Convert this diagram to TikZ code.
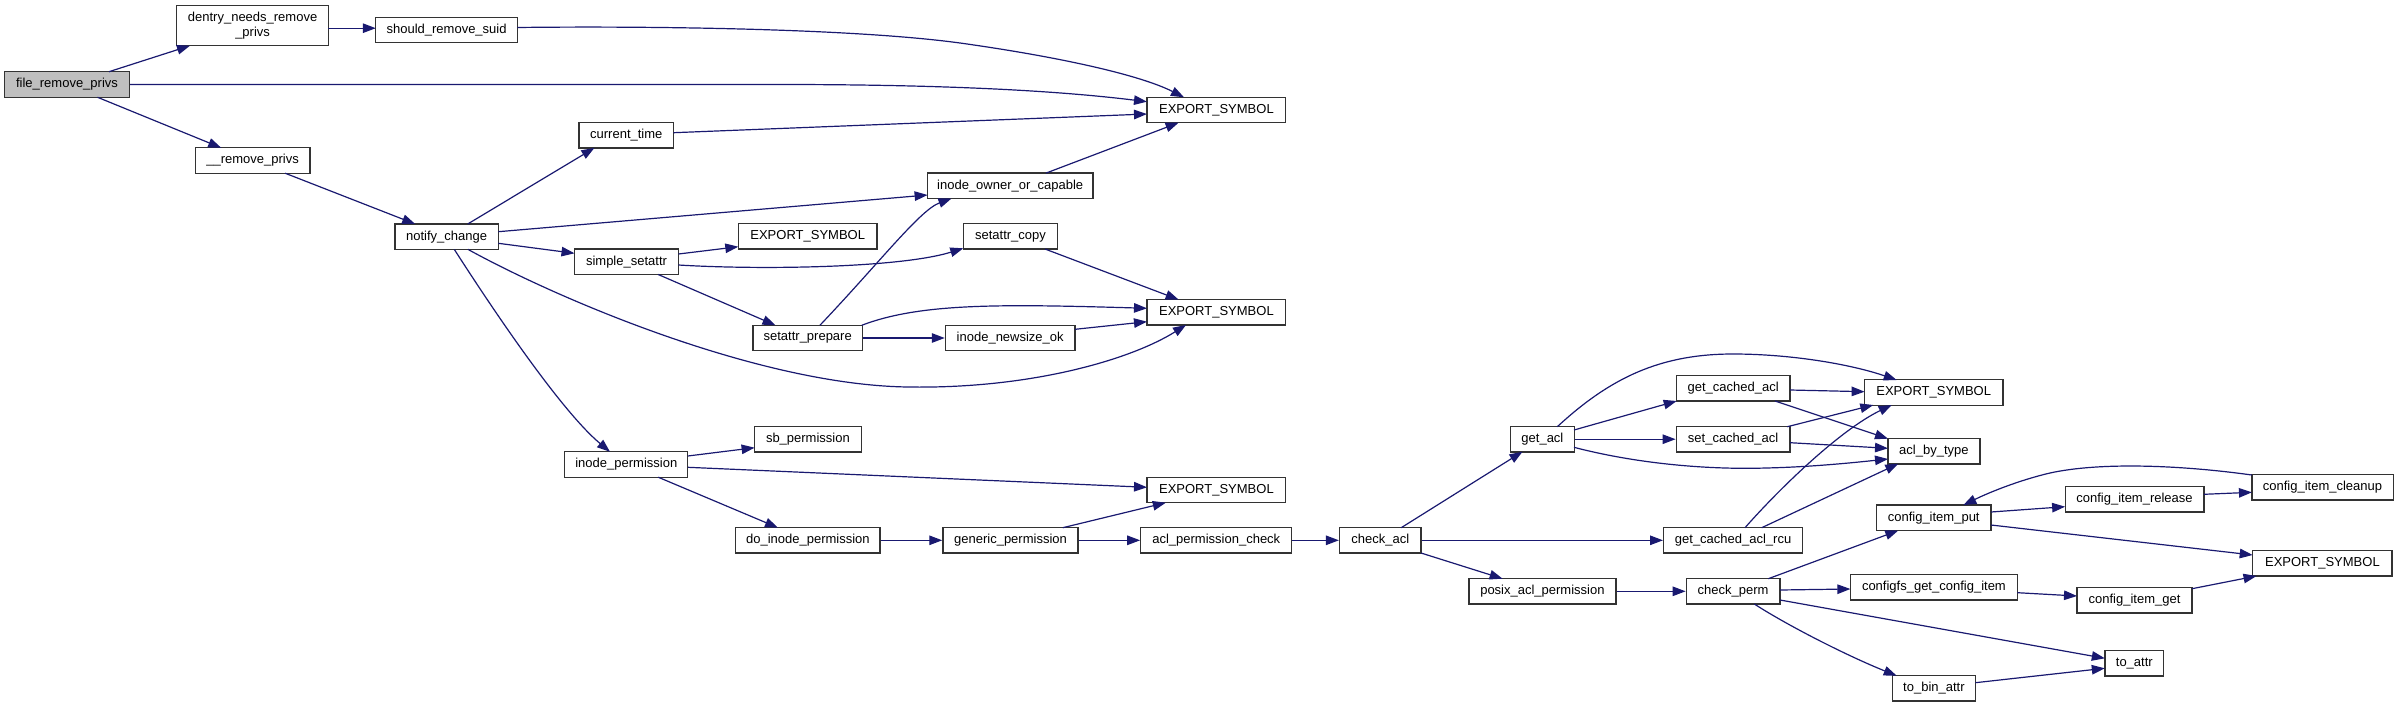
\documentclass[tikz,border=0pt]{standalone}
\usepackage{fontspec}
\setmainfont{Liberation Sans}
\usetikzlibrary{arrows.meta}
\definecolor{edgeblue}{HTML}{191970}
\definecolor{fgray}{HTML}{BFBFBF}
\tikzset{
  fn/.style={draw=black!80, line width=1.3pt, rectangle, inner sep=0pt, minimum height=25.4pt,
    font=\fontsize{13}{15}\selectfont, fill=white, text=black, align=center},
  edge/.style={draw=edgeblue, line width=1.2pt, -{Triangle[length=13pt,width=9.5pt]}}
}
\begin{document}
\begin{tikzpicture}[x=1pt,y=-1pt]
\useasboundingbox (0,0) rectangle (2399,707);
% nodes
\node[fn, fill=fgray, minimum width=125pt, minimum height=25.6pt] (frp) at (67,84.5) {file\_remove\_privs};
\node[fn, minimum width=151.6pt, minimum height=40pt] (dentry) at (252.6,25.7) {dentry\_needs\_remove\\\_privs};
\node[fn, minimum width=141.6pt] (srs) at (446.6,30) {should\_remove\_suid};
\node[fn, minimum width=114.8pt] (rp) at (252.6,160.5) {\_\_remove\_privs};
\node[fn, minimum width=103.3pt] (nc) at (446.6,236.7) {notify\_change};
\node[fn, minimum width=138.7pt] (es1) at (1216.4,110) {EXPORT\_SYMBOL};
\node[fn, minimum width=94.4pt] (ct) at (626.3,135.2) {current\_time};
\node[fn, minimum width=165.3pt] (ioc) at (1010.2,185.8) {inode\_owner\_or\_capable};
\node[fn, minimum width=138.7pt] (es2) at (807.7,236.3) {EXPORT\_SYMBOL};
\node[fn, minimum width=94.4pt] (sc) at (1010.5,236.3) {setattr\_copy};
\node[fn, minimum width=104pt] (ss) at (626.5,261.8) {simple\_setattr};
\node[fn, minimum width=138.7pt] (es3) at (1216.4,312.3) {EXPORT\_SYMBOL};
\node[fn, minimum width=109.2pt] (sp) at (807.7,338) {setattr\_prepare};
\node[fn, minimum width=129.6pt] (ino) at (1010.2,338) {inode\_newsize\_ok};
\node[fn, minimum width=106.6pt] (sb) at (807.9,439.3) {sb\_permission};
\node[fn, minimum width=123pt] (ip) at (626.3,464.5) {inode\_permission};
\node[fn, minimum width=138.7pt] (es4) at (1216.4,490) {EXPORT\_SYMBOL};
\node[fn, minimum width=144.4pt] (dip) at (807.9,540.3) {do\_inode\_permission};
\node[fn, minimum width=135.2pt] (gp) at (1010.5,540.3) {generic\_permission};
\node[fn, minimum width=151pt] (apc) at (1216.3,540.3) {acl\_permission\_check};
\node[fn, minimum width=81.5pt] (ca) at (1380.3,540.3) {check\_acl};
\node[fn, minimum width=64.3pt] (ga) at (1542.4,439.2) {get\_acl};
\node[fn, minimum width=113.7pt] (gca) at (1733.1,388.3) {get\_cached\_acl};
\node[fn, minimum width=113.7pt] (sca) at (1733.1,439.2) {set\_cached\_acl};
\node[fn, minimum width=138.9pt] (gcar) at (1733.1,540.3) {get\_cached\_acl\_rcu};
\node[fn, minimum width=147pt] (pap) at (1542.4,591.3) {posix\_acl\_permission};
\node[fn, minimum width=93.7pt] (cp) at (1733.1,591.3) {check\_perm};
\node[fn, minimum width=138.3pt] (es5) at (1933.7,392.5) {EXPORT\_SYMBOL};
\node[fn, minimum width=92pt] (abt) at (1933.9,451.2) {acl\_by\_type};
\node[fn, minimum width=141.3pt] (cic) at (2322.5,487.2) {config\_item\_cleanup};
\node[fn, minimum width=138.7pt] (cir) at (2134.5,499.3) {config\_item\_release};
\node[fn, minimum width=114.6pt] (cip) at (1933.7,517.8) {config\_item\_put};
\node[fn, minimum width=139.4pt] (es6) at (2322.4,563.3) {EXPORT\_SYMBOL};
\node[fn, minimum width=167pt] (cgci) at (1933.9,587.3) {configfs\_get\_config\_item};
\node[fn, minimum width=115pt] (cig) at (2134.5,600.3) {config\_item\_get};
\node[fn, minimum width=58.9pt] (ta) at (2134.3,663.3) {to\_attr};
\node[fn, minimum width=82.8pt] (tba) at (1933.9,688.3) {to\_bin\_attr};
% edges
\draw[edge] ([shift={(42,-12.8)}]frp.center) -- ([shift={(-62.6,20)}]dentry.center);
\draw[edge] (frp.east) -- (780,84.5) .. controls (950,84.5) and (1060,91) .. ([shift={(-69.4,-8.3)}]es1.center);
\draw[edge] ([shift={(30.6,12.8)}]frp.center) -- ([shift={(-31.4,-12.7)}]rp.center);
\draw[edge] ([shift={(75.8,2.5)}]dentry.center) -- ([shift={(-70.8,-1.8)}]srs.center);
\draw[edge] ([shift={(70.8,-2.5)}]srs.center) .. controls (640,26) and (850,28) .. (960,43) .. controls (1060,57) and (1140,75) .. ([shift={(-32.4,-12.7)}]es1.center);
\draw[edge] ([shift={(32.5,12.7)}]rp.center) -- ([shift={(-31.4,-12.7)}]nc.center);
\draw[edge] ([shift={(21.1,-12.7)}]nc.center) -- ([shift={(-31.9,12.7)}]ct.center);
\draw[edge] ([shift={(51.7,-5)}]nc.center) -- ([shift={(-82.6,9.2)}]ioc.center);
\draw[edge] ([shift={(51.7,6.6)}]nc.center) -- ([shift={(-52,-8.5)}]ss.center);
\draw[edge] ([shift={(21.4,12.7)}]nc.center) .. controls (560,300) and (760,385) .. (908,387) .. controls (1030,389) and (1130,360) .. ([shift={(-30.4,12.7)}]es3.center);
\draw[edge] ([shift={(7.7,12.7)}]nc.center) .. controls (490,305) and (560,410) .. ([shift={(-16.3,-12.7)}]ip.center);
\draw[edge] ([shift={(47.2,-2.5)}]ct.center) -- ([shift={(-69.4,4)}]es1.center);
\draw[edge] ([shift={(35.8,-12.7)}]ioc.center) -- ([shift={(-37.8,12.7)}]es1.center);
\draw[edge] ([shift={(52,-7.8)}]ss.center) -- ([shift={(-69.4,10.4)}]es2.center);
\draw[edge] ([shift={(52,3.2)}]ss.center) .. controls (760,270) and (900,268) .. ([shift={(-47.2,12)}]sc.center);
\draw[edge] ([shift={(31.7,12.7)}]ss.center) -- ([shift={(-32.2,-12.7)}]sp.center);
\draw[edge] ([shift={(34.5,12.7)}]sc.center) -- ([shift={(-37.8,-12.7)}]es3.center);
\draw[edge] ([shift={(12.2,-12.7)}]sp.center) .. controls (880,262) and (920,210) .. ([shift={(-58.7,12.7)}]ioc.center);
\draw[edge] ([shift={(54,-12.7)}]sp.center) .. controls (920,303) and (1000,304) .. ([shift={(-69.4,-4)}]es3.center);
\draw[edge] (sp.east) -- (ino.west);
\draw[edge] ([shift={(64.8,-8.7)}]ino.center) -- ([shift={(-69.4,9.4)}]es3.center);
\draw[edge] ([shift={(61.5,-8.5)}]ip.center) -- ([shift={(-53.3,8.4)}]sb.center);
\draw[edge] ([shift={(61.5,2.8)}]ip.center) -- ([shift={(-69.4,-2.7)}]es4.center);
\draw[edge] ([shift={(31.9,12.7)}]ip.center) -- ([shift={(-29.9,-12.6)}]dip.center);
\draw[edge] (dip.east) -- (gp.west);
\draw[edge] ([shift={(52.3,-12.6)}]gp.center) -- ([shift={(-50.6,12.7)}]es4.center);
\draw[edge] (gp.east) -- (apc.west);
\draw[edge] (apc.east) -- (ca.west);
\draw[edge] ([shift={(20.9,-12.6)}]ca.center) -- ([shift={(-19.9,12.5)}]ga.center);
\draw[edge] (ca.east) -- (gcar.west);
\draw[edge] ([shift={(40.7,12.7)}]ca.center) -- ([shift={(-39.8,-12.6)}]pap.center);
\draw[edge] ([shift={(14.9,-12.5)}]ga.center) .. controls (1610,378) and (1660,354) .. (1733,354) .. controls (1790,354) and (1850,364) .. ([shift={(-37,-12.5)}]es5.center);
\draw[edge] ([shift={(31.6,-9.2)}]ga.center) -- ([shift={(-56.4,12.7)}]gca.center);
\draw[edge] (ga.east) -- (sca.west);
\draw[edge] ([shift={(31.6,8.1)}]ga.center) .. controls (1630,462) and (1700,470) .. (1766,468) .. controls (1810,467) and (1850,463) .. ([shift={(-45.9,7.8)}]abt.center);
\draw[edge] ([shift={(56.9,1.7)}]gca.center) -- ([shift={(-69.1,-0.8)}]es5.center);
\draw[edge] ([shift={(41.9,12.7)}]gca.center) -- ([shift={(-45.9,-12.5)}]abt.center);
\draw[edge] ([shift={(54.2,-12.5)}]sca.center) -- ([shift={(-60.4,12.5)}]es5.center);
\draw[edge] ([shift={(56.9,3.5)}]sca.center) -- ([shift={(-45.9,-2.9)}]abt.center);
\draw[edge] ([shift={(11.9,-12.6)}]gcar.center) .. controls (1780,488) and (1840,430) .. ([shift={(-42,12.5)}]es5.center);
\draw[edge] ([shift={(28.6,-12.6)}]gcar.center) -- ([shift={(-35.6,12.5)}]abt.center);
\draw[edge] (pap.east) -- (cp.west);
\draw[edge] ([shift={(35.2,-12.6)}]cp.center) -- ([shift={(-35.4,12.7)}]cip.center);
\draw[edge] ([shift={(46.9,-1.3)}]cp.center) -- ([shift={(-83.5,1.7)}]cgci.center);
\draw[edge] ([shift={(46.9,8.7)}]cp.center) -- ([shift={(-29.5,-5)}]ta.center);
\draw[edge] ([shift={(21.2,12.7)}]cp.center) .. controls (1790,627) and (1850,657) .. ([shift={(-37.2,-12.6)}]tba.center);
\draw[edge] ([shift={(57.3,-5.8)}]cip.center) -- ([shift={(-69.4,7.4)}]cir.center);
\draw[edge] ([shift={(57.3,7.2)}]cip.center) -- ([shift={(-69.7,-8.3)}]es6.center);
\draw[edge] ([shift={(69.3,-5)}]cir.center) -- ([shift={(-70.6,5.1)}]cic.center);
\draw[edge] ([shift={(-70.7,-12.2)}]cic.center) .. controls (2180,465) and (2100,462) .. (2050,473) .. controls (2020,480) and (1990,492) .. ([shift={(29.6,-12.7)}]cip.center);
\draw[edge] ([shift={(83.5,5.4)}]cgci.center) -- ([shift={(-57.5,-4.3)}]cig.center);
\draw[edge] ([shift={(57.5,-11.6)}]cig.center) -- ([shift={(-65.9,12.7)}]es6.center);
\draw[edge] ([shift={(41.4,-5.6)}]tba.center) -- ([shift={(-29.5,5)}]ta.center);
\end{tikzpicture}
\end{document}
